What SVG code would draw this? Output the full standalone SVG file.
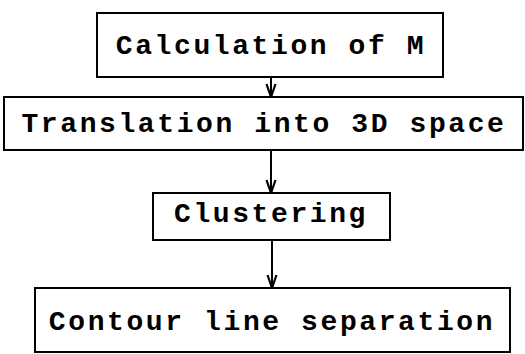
<svg xmlns="http://www.w3.org/2000/svg" width="525" height="354" viewBox="0 0 525 354">
  <style>
    .box { fill: #fff; stroke: #000; stroke-width: 2; }
    .label { font-family: "Liberation Mono", "DejaVu Sans Mono", monospace; font-weight: bold; font-size: 28px; letter-spacing: 2.6px; fill: #000; text-anchor: middle; dominant-baseline: central; }
    .edge { stroke: #000; stroke-width: 2; fill: none; }
  </style>
  <defs>
    <!-- open V arrowhead, pointing along the line direction -->
    <marker id="arrow" viewBox="-14 -6 15 12" refX="0" refY="0" markerWidth="15" markerHeight="12" markerUnits="userSpaceOnUse" orient="auto">
      <path d="M-13,-4.5 L0,0 L-13,4.5" fill="none" stroke="#000" stroke-width="2.2"/>
    </marker>
  </defs>
  <rect width="525" height="354" fill="#fff"/>

  <g id="connectors">
    <line class="edge" x1="271" y1="77" x2="271" y2="97" marker-end="url(#arrow)"/>
    <line class="edge" x1="271" y1="150" x2="271" y2="193" marker-end="url(#arrow)"/>
    <line class="edge" x1="272" y1="240" x2="272" y2="288" marker-end="url(#arrow)"/>
  </g>

  <g id="calc-m">
    <rect class="box" x="97" y="13" width="346" height="64"/>
    <text class="label" x="271" y="46">Calculation of M</text>
  </g>

  <g id="translation">
    <rect class="box" x="4" y="97" width="519" height="53"/>
    <text class="label" x="264" y="124">Translation into 3D space</text>
  </g>

  <g id="clustering">
    <rect class="box" x="153" y="193" width="237" height="47"/>
    <text class="label" x="271" y="214">Clustering</text>
  </g>

  <g id="contour">
    <rect class="box" x="35" y="288" width="475" height="64"/>
    <text class="label" x="272" y="322">Contour line separation</text>
  </g>
</svg>
